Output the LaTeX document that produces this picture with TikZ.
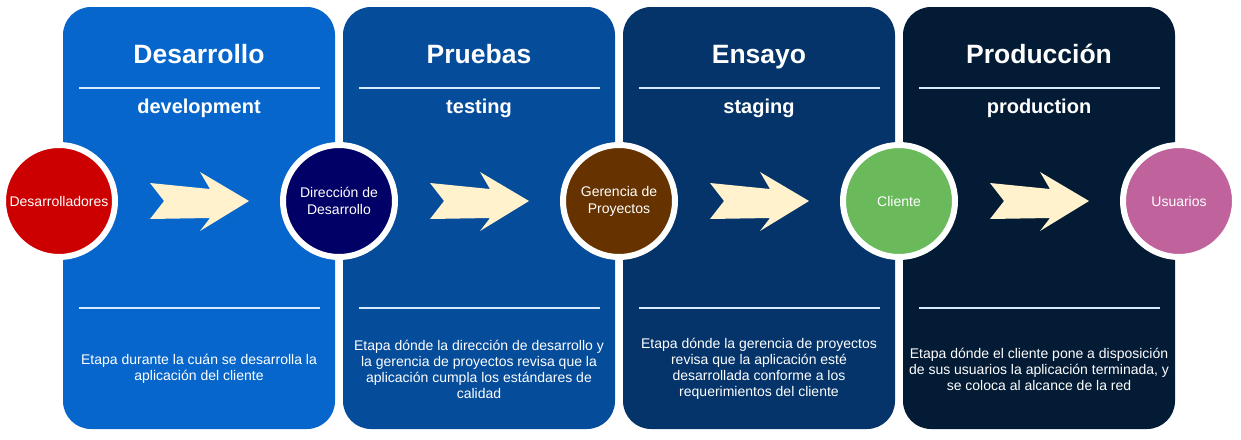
\documentclass[tikz,border=0pt]{standalone}
\usepackage{fontspec}
\setmainfont{Liberation Sans}
\usetikzlibrary{positioning, calc}

\definecolor{devblue}{RGB}{6,102,204}
\definecolor{testblue}{RGB}{5,76,154}
\definecolor{stageblue}{RGB}{4,52,106}
\definecolor{prodblue}{RGB}{3,27,53}
\definecolor{devred}{RGB}{204,0,0}
\definecolor{leadnavy}{RGB}{0,0,102}
\definecolor{pmbrown}{RGB}{102,51,0}
\definecolor{clientgreen}{RGB}{106,186,92}
\definecolor{userpink}{RGB}{192,98,156}
\definecolor{arrowcream}{RGB}{255,242,204}
\definecolor{rulewhite}{RGB}{215,235,255}

\begin{document}
\begin{tikzpicture}[x=1pt, y=-1pt]


        % Setup the styles for panels, stages and texts
        \tikzset{panel style/.style={rectangle,
                                     rounded corners=28pt,
                                     minimum width=272pt,
                                     minimum height=422pt,
                                     inner sep=0pt},
                 stage style/.style={circle,
                                     minimum size=112pt,
                                     inner sep=0pt,
                                     draw=white,
                                     line width=6pt,
                                     text=white,
                                     align=center,
                                     font=\fontsize{14}{17}\selectfont},
                 title style/.style={anchor=base, text=white,
                                     font=\fontsize{26.5}{30}\bfseries\selectfont},
                 sub style/.style={anchor=base, text=white,
                                   font=\fontsize{20}{24}\bfseries\selectfont},
                 note style/.style={text=white, align=center,
                                    font=\fontsize{14}{16}\selectfont},
                 rule style/.style={draw=rulewhite, line width=2pt},
                 flow style/.style={fill=arrowcream}}

\useasboundingbox (0,0) rectangle (1241,439);

% Add the panels
\node[panel style, fill=devblue] at (199,218) (dev) {};
\node[panel style, fill=testblue] at (479,218) (test) {};
\node[panel style, fill=stageblue] at (759,218) (stage) {};
\node[panel style, fill=prodblue] at (1039,218) (prod) {};

\foreach \p in {dev, test, stage, prod}{
	\draw[rule style] ([xshift=16pt]\p.west |- 0,88) -- ([xshift=-15pt]\p.east |- 0,88);
	\draw[rule style] ([xshift=16pt]\p.west |- 0,308) -- ([xshift=-15pt]\p.east |- 0,308);
}

% Titles
\node[title style] at (199,63) (devtitle) {Desarrollo};
\node[title style] at (479,63) (testtitle) {Pruebas};
\node[title style] at (759,63) (stagetitle) {Ensayo};
\node[title style] at (1039,63) (prodtitle) {Producción};

\node[sub style] at (199,113) (devsub) {development};
\node[sub style] at (479,113) (testsub) {testing};
\node[sub style] at (759,113) (stagesub) {staging};
\node[sub style] at (1039,113) (prodsub) {production};

% Descriptions
\node[note style] at (199,369) (devnote) {Etapa durante la cuán se desarrolla la\\aplicación del cliente};
\node[note style] at (479,369) (testnote) {Etapa dónde la dirección de desarrollo y\\la gerencia de proyectos revisa que la\\aplicación cumpla los estándares de\\calidad};
\node[note style] at (759,369) (stagenote) {Etapa dónde la gerencia de proyectos\\revisa que la aplicación esté\\desarrollada conforme a los\\requerimientos del cliente};
\node[note style] at (1039,369) (prodnote) {Etapa dónde el cliente pone a disposición\\de sus usuarios la aplicación terminada, y\\se coloca al alcance de la red};

% Add the stages
\node[stage style, fill=devred] at (59,201) (devs) {Desarrolladores};
\node[stage style, fill=leadnavy] at (339,201) (lead) {Dirección de\\Desarrollo};
\node[stage style, fill=pmbrown] at (619,201) (pm) {Gerencia de\\Proyectos};
\node[stage style, fill=clientgreen] at (899,201) (client) {Cliente};
\node[stage style, fill=userpink] at (1179,201) (users) {Usuarios};

% Arrows between the stages
\foreach \a/\b in {devs/lead, lead/pm, pm/client, client/users}
	\fill[flow style, shift={($(\a)!0.5!(\b)$)}]
		(-49,-18) -- (11,-12) -- (1,-29) -- (50,0) -- (1,30) -- (11,17) -- (-49,18) -- (-35,0) -- cycle;
\end{tikzpicture}
\end{document}
